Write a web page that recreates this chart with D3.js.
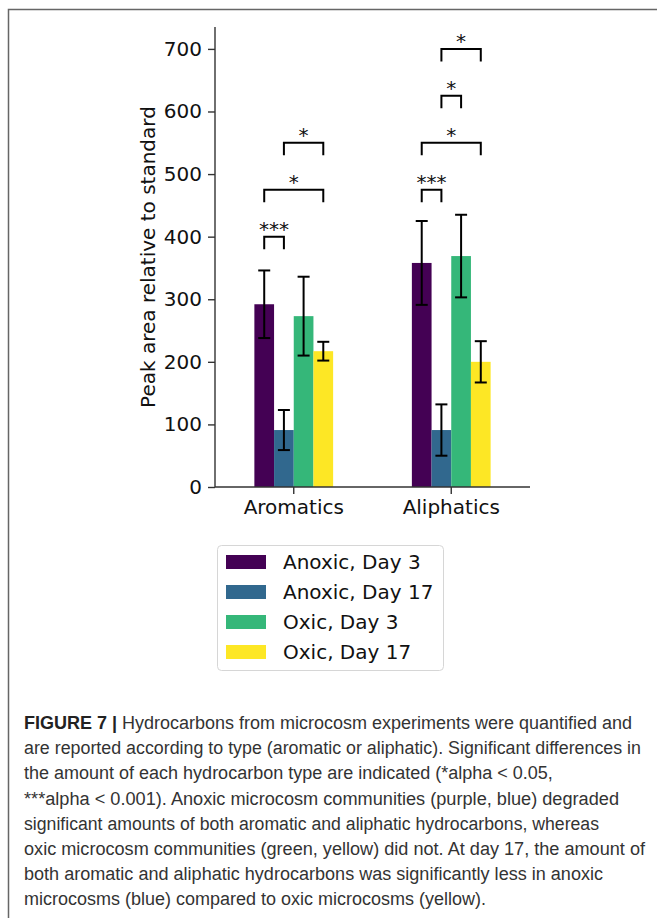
<!DOCTYPE html>
<html>
<head>
<meta charset="utf-8">
<script src="https://cdn.jsdelivr.net/npm/d3@7"></script>
<style>
  body { margin: 0; background: #fff; }
  text { font-family: "DejaVu Sans", sans-serif; }
  .caption text { font-family: "Liberation Sans Narrow", "Liberation Sans", sans-serif; }
</style>
</head>
<body>
<div id="chart"></div>
<script>
// data
const categories = ["Aromatics", "Aliphatics"];
const series = ["Anoxic, Day 3", "Anoxic, Day 17", "Oxic, Day 3", "Oxic, Day 17"];
const aromatics = [292, 91, 273, 217];
const aromaticsErr = [54, 32, 63, 15];
const aliphatics = [358, 91, 369, 200];
const aliphaticsErr = [67, 41, 66, 33];
const yTicks = [0, 100, 200, 300, 400, 500, 600, 700];

// significance brackets: group, first bar, second bar, level, label
const brackets = [
  ["Aromatics", 0, 1, 400, "***"],
  ["Aromatics", 0, 3, 475, "*"],
  ["Aromatics", 1, 3, 550, "*"],
  ["Aliphatics", 0, 1, 475, "***"],
  ["Aliphatics", 0, 3, 550, "*"],
  ["Aliphatics", 1, 2, 625, "*"],
  ["Aliphatics", 1, 3, 700, "*"]
];

const captionLines = [
  "Hydrocarbons from microcosm experiments were quantified and",
  "are reported according to type (aromatic or aliphatic). Significant differences in",
  "the amount of each hydrocarbon type are indicated (*alpha < 0.05,",
  "***alpha < 0.001). Anoxic microcosm communities (purple, blue) degraded",
  "significant amounts of both aromatic and aliphatic hydrocarbons, whereas",
  "oxic microcosm communities (green, yellow) did not. At day 17, the amount of",
  "both aromatic and aliphatic hydrocarbons was significantly less in anoxic",
  "microcosms (blue) compared to oxic microcosms (yellow)."
];
// right edge of caption lines in the reference (null = natural width)
const captionEnds = [632, 641, null, 619, 599, 645, 603, null];

const colors = ["#440154", "#31688e", "#35b779", "#fde725"];

const W = 657, H = 918;
const plot = {left: 215, right: 530, top: 27, bottom: 487};

const svg = d3.select("#chart")
  .append("svg")
    .attr("width", W)
    .attr("height", H);

// frame of the figure box
svg.append("path")
  .attr("d", `M8.5,${H} V9.5 H${W}`)
  .attr("fill", "none")
  .attr("stroke", "#666")
  .attr("stroke-width", 1.5);

const values = {Aromatics: aromatics, Aliphatics: aliphatics};
const errors = {Aromatics: aromaticsErr, Aliphatics: aliphaticsErr};

// scales
const x = d3.scaleBand()
  .domain(categories)
  .range([plot.left, plot.right]);
const bw = x.bandwidth();
const xSub = d3.scaleBand()
  .domain(d3.range(series.length))
  .range([bw / 4, bw * 3 / 4]);
const y = d3.scaleLinear()
  .domain([0, 735])
  .range([plot.bottom, plot.top]);
const color = d3.scaleOrdinal().domain(series).range(colors);

// bars
const rows = [];
categories.forEach(c => series.forEach((s, i) => rows.push({cat: c, i: i, s: s, v: values[c][i], e: errors[c][i]})));

svg.append("g")
  .selectAll("rect")
  .data(rows)
  .join("rect")
    .attr("x", d => x(d.cat) + xSub(d.i))
    .attr("y", d => y(d.v))
    .attr("width", xSub.bandwidth())
    .attr("height", d => y(0) - y(d.v))
    .attr("fill", d => color(d.s));

// error bars
const eb = svg.append("g")
  .attr("stroke", "#000")
  .attr("stroke-width", 2);
const cx = d => x(d.cat) + xSub(d.i) + xSub.bandwidth() / 2;
eb.selectAll(".v").data(rows).join("line")
  .attr("x1", cx).attr("x2", cx)
  .attr("y1", d => y(d.v - d.e)).attr("y2", d => y(d.v + d.e));
eb.selectAll(".t").data(rows).join("line")
  .attr("x1", d => cx(d) - 6).attr("x2", d => cx(d) + 6)
  .attr("y1", d => y(d.v + d.e)).attr("y2", d => y(d.v + d.e));
eb.selectAll(".b").data(rows).join("line")
  .attr("x1", d => cx(d) - 6).attr("x2", d => cx(d) + 6)
  .attr("y1", d => y(d.v - d.e)).attr("y2", d => y(d.v - d.e));

// Y axis
const yAxis = svg.append("g")
  .attr("transform", `translate(${plot.left},0)`)
  .call(d3.axisLeft(y).tickValues(yTicks).tickSize(7).tickPadding(6));
// X axis
const xAxis = svg.append("g")
  .attr("transform", `translate(0,${plot.bottom})`)
  .call(d3.axisBottom(x).tickSize(7).tickPadding(6));

[yAxis, xAxis].forEach(a => {
  a.select(".domain").attr("stroke", "#333").attr("stroke-width", 1.4);
  a.selectAll(".tick line").attr("stroke", "#333").attr("stroke-width", 1.4);
  a.selectAll(".tick text")
    .attr("fill", "#111")
    .style("font-size", "20px")
    .style("font-family", "'DejaVu Sans', sans-serif");
});
// axis path without outer ticks
yAxis.select(".domain").attr("d", `M0,${plot.bottom}V${plot.top}`);
xAxis.select(".domain").attr("d", `M${plot.left},0H${plot.right}`);

// Y axis label
svg.append("text")
  .attr("transform", `translate(155,${(plot.top + plot.bottom) / 2}) rotate(-90)`)
  .attr("text-anchor", "middle")
  .style("font-size", "20px")
  .attr("fill", "#111")
  .text("Peak area relative to standard");

// significance brackets
const br = svg.append("g");
const bx = (c, i) => x(c) + xSub(i) + xSub.bandwidth() / 2;
br.selectAll("path")
  .data(brackets)
  .join("path")
    .attr("d", d => `M${bx(d[0], d[1])},${y(d[3] - 20)}V${y(d[3])}H${bx(d[0], d[2])}V${y(d[3] - 20)}`)
    .attr("fill", "none")
    .attr("stroke", "#000")
    .attr("stroke-width", 2);
br.selectAll("text")
  .data(brackets)
  .join("text")
    .attr("x", d => (bx(d[0], d[1]) + bx(d[0], d[2])) / 2)
    .attr("y", d => y(d[3]) - 1)
    .attr("text-anchor", "middle")
    .style("font-size", "20px")
    .attr("fill", "#111")
    .text(d => d[4]);

// legend
const lg = svg.append("g").attr("transform", "translate(217,545)");
lg.append("rect")
  .attr("x", 0.5).attr("y", 0.5)
  .attr("width", 226).attr("height", 125)
  .attr("rx", 4)
  .attr("fill", "#fff")
  .attr("stroke", "#d6d6d6");
const li = lg.selectAll(".item")
  .data(series)
  .join("g")
    .attr("transform", (d, i) => `translate(0,${17 + i * 30})`);
li.append("rect")
  .attr("x", 9).attr("y", -7)
  .attr("width", 40).attr("height", 14)
  .attr("fill", d => color(d));
li.append("text")
  .attr("x", 66)
  .attr("dy", "0.36em")
  .style("font-size", "20px")
  .attr("fill", "#111")
  .text(d => d);

// caption
const cap = svg.append("g").attr("class", "caption");
const ct = cap.selectAll("text")
  .data(captionLines)
  .join("text")
    .attr("x", 24)
    .attr("y", (d, i) => 729 + i * 25.2)
    .style("font-size", "18px")
    .attr("fill", "#333");
ct.filter((d, i) => i === 0)
  .append("tspan")
    .attr("font-weight", "bold")
    .attr("fill", "#222")
    .text("FIGURE 7 | ");
ct.append("tspan").text(d => d);
ct.filter((d, i) => captionEnds[i] !== null)
  .attr("textLength", (d, i, n) => captionEnds[captionLines.indexOf(d)] - 24)
  .attr("lengthAdjust", "spacingAndGlyphs");
</script>
</body>
</html>
